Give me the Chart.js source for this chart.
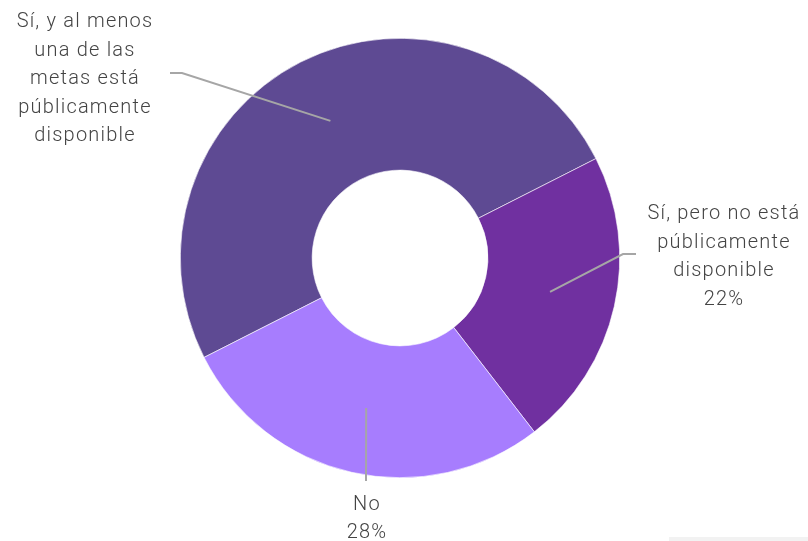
<!DOCTYPE html>
<html>
<head>
<meta charset="utf-8">
<script src="https://cdn.jsdelivr.net/npm/chart.js@4"></script>
<style>
  html, body { margin: 0; padding: 0; background: #ffffff; }
  #wrap { position: relative; width: 808px; height: 541px; }
  #strip { position: absolute; left: 669px; top: 537px; width: 139px; height: 4px; background: #f2f2f2; }
</style>
</head>
<body>
<div id="wrap">
  <canvas id="chart" width="808" height="541"></canvas>
  <div id="strip"></div>
</div>
<script>
// data
var categories = [
    'Sí, y al menos una de las metas está públicamente disponible',
    'Sí, pero no está públicamente disponible',
    'No'
];
var values = [50, 22, 28];
var colors = ['#5e4a93', '#7030a0', '#a77dfe'];

// label text as shown on the picture (the first one has no percentage)
var labelLines = [
    ['Sí, y al menos', 'una de las', 'metas está', 'públicamente', 'disponible'],
    ['Sí, pero no está', 'públicamente', 'disponible', '22%'],
    ['No', '28%']
];

// label placement, relative to the doughnut centre
var labelPlaces = [
    { tx: -315, ty: -179, bend: [-218, -185], end: [-230, -185] },
    { tx: 324, ty: -1, bend: [223, -4], end: [236, -4] },
    { tx: -33, ty: 261, bend: null, end: [-34, 223] }
];

var leaderLabels = {
    id: 'leaderLabels',
    afterDatasetsDraw: function(chart) {
        var ctx = chart.ctx;
        var meta = chart.getDatasetMeta(0);
        var lineH = 28.5;
        meta.data.forEach(function(arc, i) {
            var p = arc.getCenterPoint();
            var cx = arc.x, cy = arc.y;
            var place = labelPlaces[i];
            ctx.save();
            ctx.strokeStyle = '#a6a6a6';
            ctx.lineWidth = 2;
            ctx.beginPath();
            ctx.moveTo(p.x, p.y);
            if (place.bend) ctx.lineTo(cx + place.bend[0], cy + place.bend[1]);
            ctx.lineTo(cx + place.end[0], cy + place.end[1]);
            ctx.stroke();

            ctx.fillStyle = '#444444';
            ctx.font = '300 20px Roboto, "Open Sans", sans-serif';
            ctx.letterSpacing = '1.2px';
            ctx.textAlign = 'center';
            ctx.textBaseline = 'middle';
            var lines = labelLines[i];
            var top = cy + place.ty - (lines.length - 1) * lineH / 2;
            lines.forEach(function(t, k) {
                ctx.fillText(t, cx + place.tx, top + k * lineH);
            });
            ctx.restore();
        });
    }
};

new Chart(document.getElementById('chart').getContext('2d'), {
    type: 'doughnut',
    data: {
        labels: categories,
        datasets: [{
            data: values,
            backgroundColor: colors,
            borderColor: '#ffffff',
            borderWidth: 0.6
        }]
    },
    options: {
        responsive: false,
        animation: false,
        rotation: -116.9,
        cutout: '40%',
        layout: {
            padding: { left: 180, right: 188, top: 38, bottom: 63 }
        },
        plugins: {
            legend: { display: false },
            tooltip: { enabled: false }
        }
    },
    plugins: [leaderLabels]
});
</script>
</body>
</html>
